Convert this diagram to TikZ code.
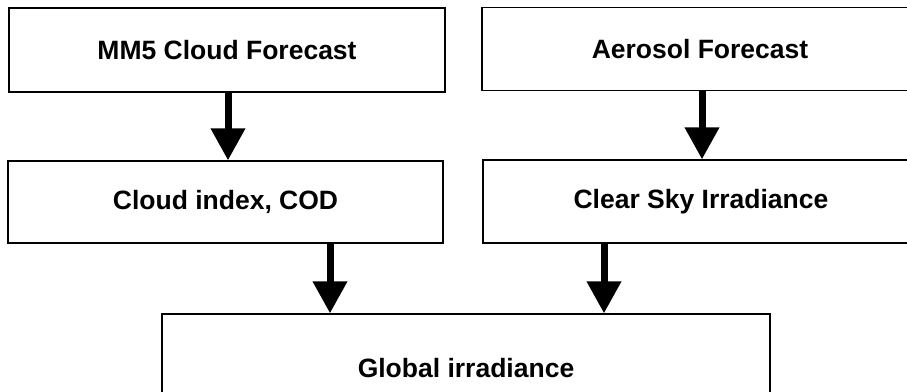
\documentclass[tikz,border=0pt]{standalone}
\usepackage{fontspec}
\setmainfont{Liberation Sans}
\usetikzlibrary{arrows.meta}
\begin{document}
\begin{tikzpicture}[x=1pt,y=1pt,
  box/.style={draw=black, line width=1.3pt, fill=white, inner sep=0pt,
    font=\bfseries\fontsize{26.5}{30}\selectfont},
  arr/.style={line width=7pt, -{Triangle[width=33pt,length=32pt]}}]
\useasboundingbox (0,0) rectangle (907,-391);
\clip (0,0) rectangle (907,-391);
\node[box, minimum width=436pt, minimum height=84pt] (mm5) at (227,-50) {MM5 Cloud Forecast};
\node[box, minimum width=436pt, minimum height=83pt] (aer) at (700,-49) {Aerosol Forecast};
\node[box, minimum width=435pt, minimum height=82pt] (cod) at (225.5,-202) {Cloud index, COD};
\node[box, minimum width=436pt, minimum height=83pt] (csi) at (701,-201.5) {Clear Sky Irradiance};
\node[box, minimum width=608pt, minimum height=108pt] (glob) at (466,-368) {Global irradiance};
\coordinate (x1) at (228,0);
\coordinate (x2) at (702,0);
\coordinate (x3) at (330,0);
\coordinate (x4) at (604,0);
\draw[arr] (mm5.south -| x1) -- (cod.north -| x1);
\draw[arr] (aer.south -| x2) -- (csi.north -| x2);
\draw[arr] (cod.south -| x3) -- (glob.north -| x3);
\draw[arr] (csi.south -| x4) -- (glob.north -| x4);
\end{tikzpicture}
\end{document}
